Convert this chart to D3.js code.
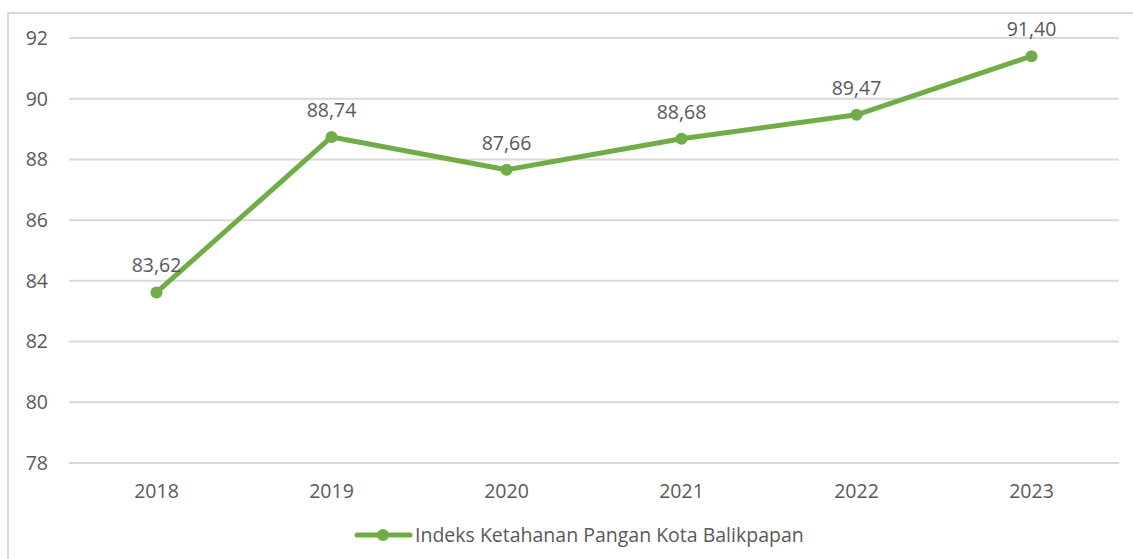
<!DOCTYPE html>
<html>
<head>
<meta charset="utf-8">
<script src="https://cdn.jsdelivr.net/npm/d3@7"></script>
<style>
	body { margin: 0; background: #fff; }
	text { font-family: "Open Sans", sans-serif; fill: #595959; font-size: 19.5px; }
	.grid line { stroke: #d9d9d9; stroke-width: 2; }
	.frame { fill: none; stroke: #d9d9d9; stroke-width: 2; }
</style>
</head>
<body>
<div id="graphic"></div>
<script>
// Data
var YEARS = ['2018', '2019', '2020', '2021', '2022', '2023'];
var VALUES = [83.62, 88.74, 87.66, 88.68, 89.47, 91.40];
var Y_TICKS = [78, 80, 82, 84, 86, 88, 90, 92];
var SERIES_NAME = 'Indeks Ketahanan Pangan Kota Balikpapan';

var WIDTH = 1133;
var HEIGHT = 559;
var GREEN = '#70ad47';

function renderGraphic() {
	var margins = { top: 38, right: 14, bottom: 96, left: 69 };
	var chartWidth = WIDTH - margins.left - margins.right;
	var chartHeight = HEIGHT - margins.top - margins.bottom;

	var svg = d3.select('#graphic').append('svg')
		.attr('width', WIDTH)
		.attr('height', HEIGHT);

	// chart frame
	svg.append('rect')
		.attr('class', 'frame')
		.attr('x', 8)
		.attr('y', 13)
		.attr('width', WIDTH + 10)
		.attr('height', HEIGHT);

	var chartElement = svg.append('g')
		.attr('transform', 'translate(' + margins.left + ',' + margins.top + ')');

	var xScale = d3.scaleBand()
		.domain(YEARS)
		.range([0, chartWidth]);

	var yScale = d3.scaleLinear()
		.domain([78, 92])
		.range([chartHeight, 0]);

	// gridlines
	chartElement.append('g')
		.attr('class', 'grid')
		.selectAll('line')
		.data(Y_TICKS)
		.enter().append('line')
		.attr('x1', 0)
		.attr('x2', chartWidth)
		.attr('y1', function(d) { return yScale(d); })
		.attr('y2', function(d) { return yScale(d); });

	// y labels
	chartElement.append('g')
		.selectAll('text')
		.data(Y_TICKS)
		.enter().append('text')
		.attr('x', -21)
		.attr('y', function(d) { return yScale(d); })
		.attr('dy', '0.35em')
		.attr('text-anchor', 'end')
		.text(function(d) { return d; });

	// x labels
	chartElement.append('g')
		.selectAll('text')
		.data(YEARS)
		.enter().append('text')
		.attr('x', function(d) { return xScale(d) + xScale.bandwidth() / 2; })
		.attr('y', chartHeight + 28)
		.attr('dy', '0.35em')
		.attr('text-anchor', 'middle')
		.text(function(d) { return d; });

	var points = YEARS.map(function(y, i) { return { year: y, value: VALUES[i] }; });

	var line = d3.line()
		.x(function(d) { return xScale(d.year) + xScale.bandwidth() / 2; })
		.y(function(d) { return yScale(d.value); });

	chartElement.append('path')
		.datum(points)
		.attr('d', line)
		.attr('fill', 'none')
		.attr('stroke', GREEN)
		.attr('stroke-width', 5)
		.attr('stroke-linejoin', 'round');

	chartElement.append('g')
		.selectAll('circle')
		.data(points)
		.enter().append('circle')
		.attr('cx', function(d) { return xScale(d.year) + xScale.bandwidth() / 2; })
		.attr('cy', function(d) { return yScale(d.value); })
		.attr('r', 6)
		.attr('fill', GREEN);

	// data labels
	chartElement.append('g')
		.selectAll('text')
		.data(points)
		.enter().append('text')
		.attr('x', function(d) { return xScale(d.year) + xScale.bandwidth() / 2; })
		.attr('y', function(d) { return yScale(d.value) - 27; })
		.attr('dy', '0.35em')
		.attr('text-anchor', 'middle')
		.text(function(d) { return d3.format('.2f')(d.value).replace('.', ','); });

	// legend
	var legend = svg.append('g')
		.attr('transform', 'translate(357,535)');

	legend.append('line')
		.attr('x1', 0)
		.attr('x2', 53)
		.attr('stroke', GREEN)
		.attr('stroke-width', 5)
		.attr('stroke-linecap', 'round');

	legend.append('circle')
		.attr('cx', 26)
		.attr('r', 6)
		.attr('fill', GREEN);

	legend.append('text')
		.attr('x', 58)
		.attr('dy', '0.35em')
		.text(SERIES_NAME);
}

renderGraphic();
</script>
</body>
</html>
